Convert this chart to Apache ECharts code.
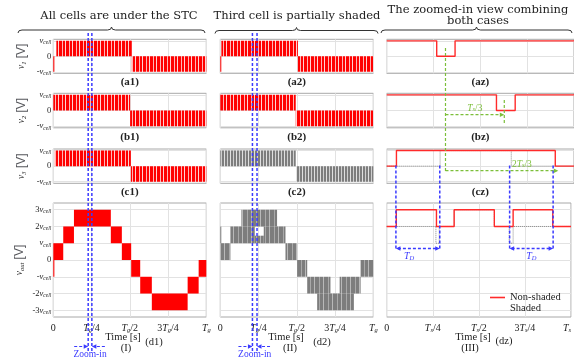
<!DOCTYPE html>
<html><head><meta charset="utf-8">
<script src="https://cdn.jsdelivr.net/npm/echarts@6/dist/echarts.min.js"></script>
<style>html,body{margin:0;padding:0;background:#fff}#c{width:574px;height:360px}</style>
</head><body><div id="c"></div>
<script>
// ---------------- data ----------------
// time is in units of one grid period Tg (columns I, II) or one switching period Ts (column III)
const timeTicks = [0, 0.25, 0.5, 0.75, 1];
const tgTickLabels = ['{n|0}', '{i|T}{s|g}{n|/4}', '{i|T}{s|g}{n|/2}', '{n|3}{i|T}{s|g}{n|/4}', '{i|T}{s|g}'];
const tsTickLabels = ['{n|0}', '{i|T}{s|s}{n|/4}', '{i|T}{s|s}{n|/2}', '{n|3}{i|T}{s|s}{n|/4}', '{i|T}{s|s}'];
const cellLevels = [-1, 0, 1];
const cellLevelLabels = ['{n|-}{i|v}{s|cell}', '{n|0}', '{i|v}{s|cell}'];
const outLevels = [-3, -2, -1, 0, 1, 2, 3];
const outLevelLabels = ['{n|-3}{i|v}{s|cell}', '{n|-2}{i|v}{s|cell}', '{n|-}{i|v}{s|cell}', '{n|0}',
                        '{i|v}{s|cell}', '{n|2}{i|v}{s|cell}', '{n|3}{i|v}{s|cell}'];

// PWM envelopes: [t start, t end, low level, high level] (levels in vcell)
const v1Bands = [[0.02, 0.513, 0, 1], [0.513, 1, -1, 0]];
const v1Edge = [[0, 0.007, -1, 0]];
const v2Bands = [[0, 0.502, 0, 1], [0.502, 1, -1, 0]];
const v3Bands = [[0.01, 0.507, 0, 1], [0.507, 1, -1, 0]];
const voutBands = [[0, 0.065, 0, 1], [0.065, 0.135, 1, 2], [0.135, 0.376, 2, 3], [0.376, 0.448, 1, 2],
                   [0.448, 0.509, 0, 1], [0.509, 0.568, -1, 0], [0.568, 0.644, -2, -1], [0.644, 0.878, -3, -2],
                   [0.878, 0.95, -2, -1], [0.95, 1, -1, 0]];
const voutEdge = [[0, 0.007, -1, 0]];

const v1ShBands = [[0.007, 0.507, 0, 1], [0.507, 1, -1, 0]];
const v1ShEdge = [[0, 0.006, -1, 0]];
const v2ShBands = [[0, 0.493, 0, 1], [0.493, 1, -1, 0]];
const v3ShBands = [[0, 0.493, 0, 1], [0.495, 1, -1, 0]];
const voutShBands = [[0, 0.066, 0, 1], [0.066, 0.225, 1, 2], [0.225, 0.284, 1, 1.45], [0.284, 0.426, 1, 2],
                     [0.138, 0.371, 2, 3], [0.426, 0.502, 0, 1], [0.502, 0.568, -1, 0], [0.568, 0.72, -2, -1],
                     [0.633, 0.873, -3, -2], [0.78, 0.917, -2, -1], [0.917, 1, -1, 0]];
const voutShEdge = [[0, 0.005, 1, 2]];

// zoomed-in view, one switching period: [t, level from t on]
const azNonShaded = [[0, 1], [0.267, 0], [0.365, 1], [1, 1]];
const bzNonShaded = [[0, 1], [0.586, 0], [0.686, 1], [1, 1]];
const czNonShaded = [[0, 0], [0.052, 1], [0.9, 0], [1, 0]];
const czShaded = [[0, 0], [0.285, 1], [0.665, 0], [1, 0]];
const dzNonShaded = [[0, 2], [0.052, 3], [0.27, 2], [0.366, 3], [0.584, 2], [0.686, 3], [0.901, 2], [1, 2]];
const dzShaded = [[0, 2], [0.267, 1], [0.285, 2], [0.366, 3], [0.584, 2], [0.665, 1], [0.686, 2], [1, 2]];

// annotation positions (time values)
const zoomInTg1 = [0.228, 0.252];
const zoomInTg2 = [0.21, 0.24];
const greenMarksTs = [0.319, 0.638, 0.931];
const blueMarksTs = [0.05, 0.288, 0.667, 0.903];

// ---------------- layout & style ----------------
const FONT = '"Liberation Serif", "DejaVu Serif", serif';
const TFONT = '"DejaVu Serif", serif';
const TXT = '#222';
const RED = '#ff0000';
const LRED = '#ff2a2a';
const GRAY = '#7d7d7d';
const BLUE = '#3a3aff';
const GREEN = '#7cbf3a';
const GRIDC = '#e2e2e2';
const cols = [{left: 53.3, width: 153}, {left: 220.3, width: 153}, {left: 386.7, width: 193.3}];
const rows = [{top: 39.3, height: 34}, {top: 93.3, height: 34.5}, {top: 149, height: 34.3}, {top: 203, height: 114}];
const idx = (c, r) => c * 4 + r;

function makePattern(colors) {
  const cv = document.createElement('canvas');
  cv.width = colors.length; cv.height = 1;
  const ctx = cv.getContext('2d');
  colors.forEach((c, i) => { ctx.fillStyle = c; ctx.fillRect(i, 0, 1, 1); });
  return {image: cv, repeat: 'repeat'};
}
const redPwm = makePattern([RED, RED, '#ffd2d2', RED, RED, RED, '#ffb4b4']);
const grayPwm = makePattern([GRAY, GRAY, '#e0e0e0', GRAY, GRAY, '#cfcfcf']);
const grayOut = makePattern([GRAY, GRAY, GRAY, GRAY, '#a9a9a9', GRAY, GRAY, GRAY, '#b9b9b9']);

const rich = {
  n: {fontFamily: FONT, fontSize: 10, color: TXT, lineHeight: 12},
  i: {fontFamily: FONT, fontSize: 10, fontStyle: 'italic', color: TXT, lineHeight: 12},
  s: {fontFamily: FONT, fontSize: 6.5, fontStyle: 'italic', color: TXT, lineHeight: 8, verticalAlign: 'bottom'}
};
const yrich = {
  n: {fontFamily: FONT, fontSize: 8.5, color: TXT, lineHeight: 10},
  i: {fontFamily: FONT, fontSize: 8.5, fontStyle: 'italic', color: TXT, lineHeight: 10},
  s: {fontFamily: FONT, fontSize: 5.5, fontStyle: 'italic', color: TXT, lineHeight: 7, verticalAlign: 'bottom'}
};
const nrich = {
  n: {fontFamily: FONT, fontSize: 9.5, color: TXT, lineHeight: 12},
  i: {fontFamily: FONT, fontSize: 9.5, fontStyle: 'italic', color: TXT, lineHeight: 12},
  s: {fontFamily: FONT, fontSize: 6.5, fontStyle: 'italic', color: TXT, lineHeight: 8, verticalAlign: 'bottom'}
};

function labelFor(levels, labels) {
  return v => {
    const k = levels.findIndex(l => Math.abs(l - v) < 1e-6);
    return k < 0 ? '' : labels[k];
  };
}

const grids = [], xAxes = [], yAxes = [], series = [];
const rowNames = [['(a1)', '(b1)', '(c1)'], ['(a2)', '(b2)', '(c2)'], ['(az)', '(bz)', '(cz)']];
const yNames = ['{i|v}{s|1} [V]', '{i|v}{s|2} [V]', '{i|v}{s|3} [V]', '{i|v}{s|out} [V]'];

for (let c = 0; c < 3; c++) {
  for (let r = 0; r < 4; r++) {
    const i = idx(c, r);
    const big = r === 3;
    grids.push({left: cols[c].left, width: cols[c].width, top: rows[r].top, height: rows[r].height,
      show: true, borderColor: '#a8a8a8', borderWidth: 1, backgroundColor: 'transparent'});
    xAxes.push({
      type: 'value', gridIndex: i, min: 0, max: 1, interval: 0.25,
      axisLine: {show: false}, axisTick: {show: false},
      splitLine: {show: true, lineStyle: {color: GRIDC, width: 1}},
      axisLabel: big ? {show: true, margin: 5, rich: rich, alignMaxLabel: c === 2 ? 'right' : null,
        formatter: labelFor(timeTicks, c === 2 ? tsTickLabels : tgTickLabels)} : {show: false},
      name: big ? '' : rowNames[c][r], nameLocation: 'middle', nameGap: 3.5,
      nameTextStyle: {fontFamily: FONT, fontSize: 11, fontWeight: 'bold', color: TXT}
    });
    const lv = big ? outLevels : cellLevels;
    yAxes.push({
      type: 'value', gridIndex: i,
      min: big ? -3.4 : -1.1, max: big ? 3.4 : 1.1, interval: big ? 0.2 : 0.1,
      axisLine: {show: false}, axisTick: {show: false}, splitLine: {show: false},
      axisLabel: c === 0 ? {show: true, margin: 2, rich: yrich,
        formatter: labelFor(lv, big ? outLevelLabels : cellLevelLabels)} : {show: false},
      name: c === 0 ? yNames[r] : '', nameLocation: 'middle', nameRotate: 90, nameGap: big ? 28 : 26,
      nameTextStyle: {rich: nrich}
    });
    // horizontal grid lines at the level ticks
    series.push({
      type: 'line', xAxisIndex: i, yAxisIndex: i, data: [[0, 0]], symbol: 'none', silent: true,
      lineStyle: {opacity: 0}, z: 1,
      markLine: {silent: true, symbol: ['none', 'none'], label: {show: false}, z: 1, animation: false,
        emphasis: {disabled: true},
        lineStyle: {color: GRIDC, type: 'solid', width: 1},
        data: lv.map(v => ({yAxis: v}))}
    });
  }
}

function bandSeries(gi, data, fill) {
  return {
    type: 'custom', xAxisIndex: gi, yAxisIndex: gi, data: data, clip: true, silent: true, z: 3,
    encode: {x: [0, 1], y: [2, 3]},
    renderItem: (params, api) => {
      const p0 = api.coord([api.value(0), api.value(3)]);
      const p1 = api.coord([api.value(1), api.value(2)]);
      return {type: 'rect', shape: {x: p0[0], y: p0[1], width: Math.max(p1[0] - p0[0], 1), height: p1[1] - p0[1]},
        style: {fill: fill}};
    }
  };
}
series.push(bandSeries(idx(0, 0), v1Bands, redPwm), bandSeries(idx(0, 0), v1Edge, RED),
  bandSeries(idx(0, 1), v2Bands, redPwm), bandSeries(idx(0, 2), v3Bands, redPwm),
  bandSeries(idx(0, 3), voutBands, RED), bandSeries(idx(0, 3), voutEdge, RED),
  bandSeries(idx(1, 0), v1ShBands, redPwm), bandSeries(idx(1, 0), v1ShEdge, RED),
  bandSeries(idx(1, 1), v2ShBands, redPwm), bandSeries(idx(1, 2), v3ShBands, grayPwm),
  bandSeries(idx(1, 3), voutShBands, grayOut), bandSeries(idx(1, 3), voutShEdge, GRAY));

function stepSeries(gi, name, data, shaded) {
  const col = shaded ? '#8a8a8a' : LRED;
  return {
    type: 'line', name: name, xAxisIndex: gi, yAxisIndex: gi, data: data, step: 'end', symbol: 'none',
    silent: true, z: shaded ? 3 : 4, itemStyle: {color: col},
    lineStyle: shaded ? {color: col, width: 1, type: 'dotted'} : {color: col, width: 1.4}
  };
}
series.push(stepSeries(idx(2, 0), 'az', azNonShaded, false),
  stepSeries(idx(2, 1), 'bz', bzNonShaded, false),
  stepSeries(idx(2, 2), 'cz shaded', czShaded, true),
  stepSeries(idx(2, 2), 'cz', czNonShaded, false),
  stepSeries(idx(2, 3), 'Shaded', dzShaded, true),
  stepSeries(idx(2, 3), 'Non-shaded', dzNonShaded, false));

const chart = echarts.init(document.getElementById('c'), null, {renderer: 'canvas', width: 574, height: 360});
chart.setOption({
  animation: false,
  backgroundColor: '#fff',
  grid: grids, xAxis: xAxes, yAxis: yAxes, series: series,
  legend: {data: [{name: 'Non-shaded', icon: 'rect'}, {name: 'Shaded', icon: 'none'}],
    orient: 'vertical', left: 490, top: 292, itemWidth: 15, itemHeight: 1.6,
    itemGap: 0, selectedMode: false, padding: 0,
    textStyle: {fontFamily: FONT, fontSize: 10.5, color: TXT, lineHeight: 10}}
});

// ---------------- annotations ----------------
const g = [];
function text(str, x, y, opt) {
  g.push({type: 'text', silent: true, z: 30, style: Object.assign({text: str, x: x, y: y, textAlign: 'center',
    textVerticalAlign: 'middle', fontFamily: FONT, fontSize: 10.5, fill: TXT}, opt || {})});
}
function dash(x1, y1, x2, y2, color, w) {
  g.push({type: 'line', silent: true, z: 25, shape: {x1: x1, y1: y1, x2: x2, y2: y2},
    style: {stroke: color, lineWidth: w || 1.3, lineDash: [3, 2]}});
}
function head(x, y, dir, color) {
  g.push({type: 'polygon', silent: true, z: 26,
    shape: {points: [[x, y], [x - dir * 4.5, y - 2.3], [x - dir * 4.5, y + 2.3]]}, style: {fill: color}});
}
function seg(x1, y1, x2, y2) {
  g.push({type: 'line', silent: true, z: 20, shape: {x1: x1, y1: y1, x2: x2, y2: y2},
    style: {stroke: '#333', lineWidth: 1}});
}
function curve(x1, y1, cx, cy, x2, y2) {
  g.push({type: 'bezierCurve', silent: true, z: 20, shape: {x1: x1, y1: y1, cpx1: cx, cpy1: cy, x2: x2, y2: y2},
    style: {stroke: '#333', lineWidth: 1, fill: null}});
}
function brace(x1, x2, y) {
  const m = (x1 + x2) / 2;
  curve(x1, y + 3, x1, y, x1 + 4, y);
  seg(x1 + 4, y, m - 4, y);
  curve(m - 4, y, m, y, m, y - 3);
  curve(m, y - 3, m, y, m + 4, y);
  seg(m + 4, y, x2 - 4, y);
  curve(x2 - 4, y, x2, y, x2, y + 3);
}

text('All cells are under the STC', 119, 16, {fontFamily: TFONT, fontSize: 11.5});
text('Third cell is partially shaded', 297, 16, {fontFamily: TFONT, fontSize: 11.5});
text('The zoomed-in view combining', 478, 10, {fontFamily: TFONT, fontSize: 11.5});
text('both cases', 478, 21.5, {fontFamily: TFONT, fontSize: 11.5});
brace(18, 205, 30);
brace(215, 378, 30.5);
brace(381, 572, 30);

text('Time [s]', 123, 337); text('(d1)', 154, 342); text('(I)', 126, 348);
text('Time [s]', 286, 337); text('(d2)', 322, 342); text('(II)', 290, 348);
text('Time [s]', 473, 337); text('(dz)', 504, 341); text('(III)', 470, 348);

const px = (gi, v) => chart.convertToPixel({xAxisIndex: gi}, v);
[[zoomInTg1, idx(0, 3)], [zoomInTg2, idx(1, 3)]].forEach(([vals, gi]) => {
  const xs = vals.map(v => px(gi, v));
  xs.forEach(x => dash(x, 33, x, 351, BLUE, 1.5));
  dash(xs[0] - 14, 346.5, xs[0] - 1, 346.5, BLUE, 1.1); head(xs[0], 346.5, 1, BLUE);
  dash(xs[1] + 13, 346.5, xs[1] + 1, 346.5, BLUE, 1.1); head(xs[1], 346.5, -1, BLUE);
  text('Zoom-in', (xs[0] + xs[1]) / 2, 354, {fontSize: 9.5, fill: BLUE});
});

const gx = greenMarksTs.map(v => px(idx(2, 3), v));
dash(gx[0], 48, gx[0], 172, GREEN, 1.2);
dash(gx[1], 100, gx[1], 123, GREEN, 1.2);
dash(gx[0], 114.7, gx[1] - 2, 114.7, GREEN, 1.2); head(gx[1], 114.7, 1, GREEN);
dash(gx[0], 170.7, gx[2] - 2, 170.7, GREEN, 1.2); head(gx[2], 170.7, 1, GREEN);
const grich = {i: {fontFamily: FONT, fontSize: 9.5, fontStyle: 'italic', fill: GREEN},
  n: {fontFamily: FONT, fontSize: 9.5, fill: GREEN},
  s: {fontFamily: FONT, fontSize: 6.5, fontStyle: 'italic', fill: GREEN, verticalAlign: 'bottom', lineHeight: 8}};
text('{i|T}{s|s}{n|/3}', (gx[0] + gx[1]) / 2, 108, {rich: grich});
text('{n|2}{i|T}{s|s}{n|/3}', (gx[0] + gx[2]) / 2 + 20, 164, {rich: grich});

const bx = blueMarksTs.map(v => px(idx(2, 3), v));
bx.forEach(x => dash(x, 165.5, x, 248.5, BLUE, 1.5));
dash(bx[0] + 2, 248.5, bx[1] - 2, 248.5, BLUE, 1.3); head(bx[0], 248.5, -1, BLUE); head(bx[1], 248.5, 1, BLUE);
dash(bx[2] + 2, 248.5, bx[3] - 2, 248.5, BLUE, 1.3); head(bx[2], 248.5, -1, BLUE); head(bx[3], 248.5, 1, BLUE);
const brich = {i: {fontFamily: FONT, fontSize: 10, fontStyle: 'italic', fill: BLUE},
  s: {fontFamily: FONT, fontSize: 6.5, fontStyle: 'italic', fill: BLUE, verticalAlign: 'bottom', lineHeight: 8}};
text('{i|T}{s|D}', bx[0] + 0.3 * (bx[1] - bx[0]), 256.5, {rich: brich});
text('{i|T}{s|D}', (bx[2] + bx[3]) / 2, 256.5, {rich: brich});

chart.setOption({graphic: {elements: g}});
</script></body></html>
